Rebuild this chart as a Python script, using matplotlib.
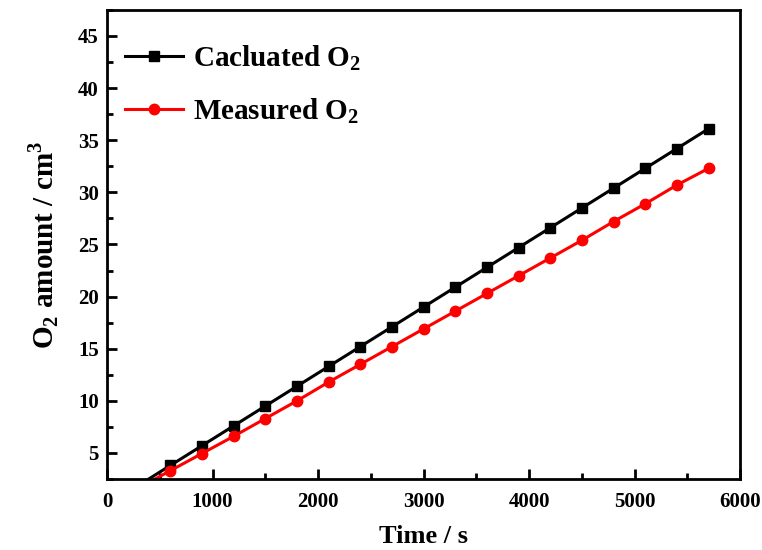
import numpy as np
import matplotlib.pyplot as plt
from matplotlib.ticker import MultipleLocator

plt.rcParams['font.family'] = ['Liberation Serif', 'DejaVu Serif']
plt.rcParams['font.weight'] = 'bold'
plt.rcParams['mathtext.fontset'] = 'custom'
plt.rcParams['mathtext.rm'] = 'Liberation Serif:bold'
plt.rcParams['mathtext.bf'] = 'Liberation Serif:bold'

time = [0, 300, 600, 900, 1200, 1500, 1800, 2100, 2400, 2700, 3000,
        3300, 3600, 3900, 4200, 4500, 4800, 5100, 5400, 5700]
calculated = [0, 1.9, 3.8, 5.7, 7.6, 9.5, 11.4, 13.3, 15.2, 17.1, 19.0,
              20.9, 22.8, 24.7, 26.6, 28.5, 30.4, 32.3, 34.2, 36.1]
measured = [0, 1.65, 3.3, 4.95, 6.6, 8.3, 10.0, 11.8, 13.5, 15.2, 16.9,
            18.6, 20.3, 22.0, 23.7, 25.4, 27.2, 28.9, 30.7, 32.3]

fig = plt.figure(figsize=(7.62, 5.5), dpi=100)
ax = fig.add_axes([0.1404, 0.129, 0.831, 0.853])

ax.plot(time, calculated, color='black', lw=2.2, marker='s', ms=6.5,
        label=r'Cacluated O$_\mathbf{2}$')
ax.plot(time, measured, color='red', lw=2.2, marker='o', ms=7.5,
        label=r'Measured O$_\mathbf{2}$')

ax.set_xlim(0, 6000)
ax.set_ylim(2.5, 47.5)
ax.xaxis.set_major_locator(MultipleLocator(1000))
ax.xaxis.set_minor_locator(MultipleLocator(500))
ax.yaxis.set_major_locator(MultipleLocator(5))
ax.yaxis.set_minor_locator(MultipleLocator(2.5))
ax.set_yticks(np.arange(5, 50, 5))
ax.tick_params(which='both', direction='in', labelsize=15, width=2)
ax.tick_params(which='major', length=7)
ax.tick_params(which='minor', length=4)
ax.tick_params(axis='x', pad=9)
ax.tick_params(axis='y', pad=6)
for s in ax.spines.values():
    s.set_linewidth(2)

ax.set_xlabel('Time / s', fontsize=19, fontweight='bold', labelpad=10)
ax.set_ylabel(r'O$_\mathbf{2}$ amount / cm$^\mathbf{3}$', fontsize=21,
              fontweight='bold', labelpad=12)

ax.legend(loc='upper left', bbox_to_anchor=(-0.025, 1.0), frameon=False,
          fontsize=21, handlelength=2.0, handletextpad=0.35,
          borderaxespad=0.75, labelspacing=0.8)

fig.savefig('out.png')
